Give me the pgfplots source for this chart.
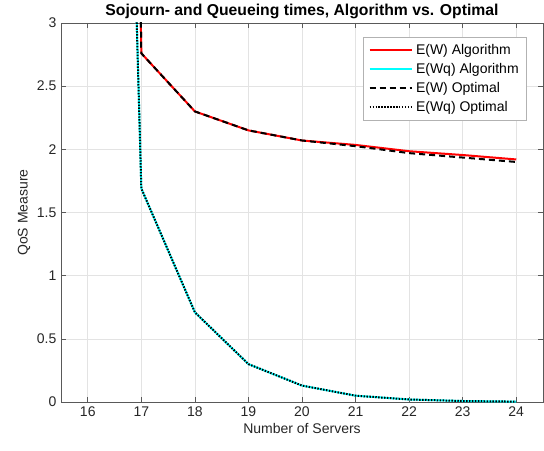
\documentclass[border=0pt]{standalone}
\usepackage{pgfplots}
\pgfplotsset{compat=1.18}
\usepackage{fontspec}
\setmainfont{Liberation Sans}
\definecolor{axgray}{gray}{0.35}
\definecolor{txtgray}{gray}{0.15}
\definecolor{mcyan}{rgb}{0,1,1}
\begin{document}
\begin{tikzpicture}
\begin{axis}[
  scale only axis,
  width=361.5pt, height=284.25pt,
  xmin=15.5, xmax=24.5, ymin=0, ymax=3,
  xtick={16,17,...,24},
  ytick={0,0.5,1,1.5,2,2.5,3},
  yticklabels={0,0.5,1,1.5,2,2.5,3},
  xticklabels={16,17,18,19,20,21,22,23,24},
  tick align=inside,
  major tick length=4pt,
  tick style={axgray, line width=0.5pt},
  axis line style={axgray, line width=0.6pt},
  grid=major,
  major grid style={gray!22, line width=0.5pt},
  /pgf/number format/assume math mode=true,
  tick label style={font=\fontsize{10.5}{12}\selectfont, text=txtgray},
  xlabel={Number of Servers},
  ylabel={QoS Measure},
  label style={font=\fontsize{10.5}{12}\selectfont, text=txtgray},
  xlabel style={yshift=2pt},
  ylabel style={yshift=-2pt},
  title={Sojourn- and Queueing times, Algorithm vs. Optimal},
  title style={font=\fontsize{11.8}{13}\selectfont\bfseries, yshift=-6.5pt},
  legend style={at={(rel axis cs:0.967,0.963)}, anchor=north east,
    draw=gray!60, line width=0.6pt, font=\fontsize{10.5}{12.5}\selectfont,
    row sep=1.2pt, inner xsep=4pt, inner ysep=3pt},
  legend cell align=left,
  legend image code/.code={\draw[#1] (0cm,0cm) -- (32pt,0cm);},
  clip=true,
]
\addplot[red, line width=1.5pt] coordinates {
  (16,30.0) (17,2.76) (18,2.30) (19,2.15) (20,2.07) (21,2.035) (22,1.985) (23,1.955) (24,1.92)};
\addlegendentry{E(W) Algorithm}
\addplot[mcyan, line width=1.5pt] coordinates {
  (16,17.0) (17,1.69) (18,0.71) (19,0.30) (20,0.13) (21,0.05) (22,0.02) (23,0.008) (24,0.003)};
\addlegendentry{E(Wq) Algorithm}
\addplot[black, line width=1.5pt, dash pattern=on 4.5pt off 3pt] coordinates {
  (16,30.0) (17,2.76) (18,2.30) (19,2.15) (20,2.07) (21,2.025) (22,1.97) (23,1.935) (24,1.90)};
\addlegendentry{E(W) Optimal}
\addplot[black, line width=1.5pt, dash pattern=on 1.1pt off 1.1pt] coordinates {
  (16,17.0) (17,1.69) (18,0.71) (19,0.30) (20,0.13) (21,0.05) (22,0.02) (23,0.008) (24,0.003)};
\addlegendentry{E(Wq) Optimal}
\end{axis}
\pgfresetboundingbox
\path ([shift={(-45.75pt,-36pt)}]current axis.south west) rectangle ([shift={(0.75pt,17.25pt)}]current axis.north east);
\end{tikzpicture}
\end{document}
